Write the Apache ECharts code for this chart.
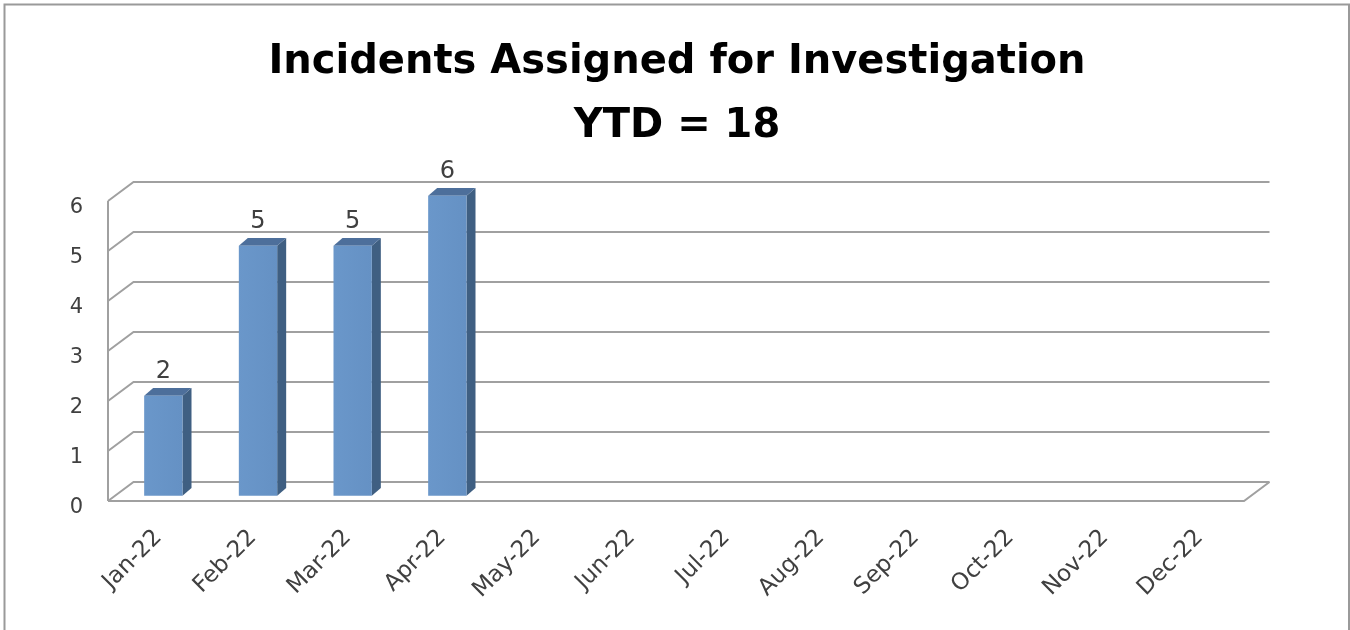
<!DOCTYPE html>
<html>
<head>
<meta charset="utf-8">
<script src="https://cdn.jsdelivr.net/npm/echarts@6/dist/echarts.min.js"></script>
<style>
html,body{margin:0;padding:0;background:#fff;}
#chart{width:1350px;height:630px;}
</style>
</head>
<body>
<div id="chart"></div>
<script>
// ---- data ----
const months = ['Jan-22','Feb-22','Mar-22','Apr-22','May-22','Jun-22','Jul-22','Aug-22','Sep-22','Oct-22','Nov-22','Dec-22'];
const incidents = [2, 5, 5, 6, null, null, null, null, null, null, null, null];
const yTicks = [0, 1, 2, 3, 4, 5, 6];
const titleLines = ['Incidents Assigned for Investigation', 'YTD = 18'];

// ---- style constants ----
const FONT = "'DejaVu Sans', 'Noto Sans', sans-serif";
const GRID_COLOR = '#A0A0A0';
const TEXT_COLOR = '#404040';
const DX = 25.5, DY = -19;          // depth of the back wall
const FDX = 8, FDY = -5.3;          // bar front-face depth offset
const BDX = 9, BDY = -7.7;          // bar thickness (depth)

const chart = echarts.init(document.getElementById('chart'));

const frameData = yTicks.map(v => [0, v]);
const barData = incidents.map((v, i) => [i, v]).filter(d => d[1] != null);
const yMin = yTicks[0], yMax = yTicks[yTicks.length - 1];

function renderFrame(params, api) {
  const v = api.value(1);
  const cs = params.coordSys;
  const x0 = cs.x, x1 = cs.x + cs.width;
  const y = api.coord([0, v])[1];
  const y0 = api.coord([0, yMin])[1];
  const ls = { stroke: GRID_COLOR, lineWidth: 2, fill: null };
  const children = [{
    type: 'polyline',
    shape: { points: [[x0, y], [x0 + DX, y + DY], [x1 + DX, y + DY]] },
    style: ls
  }];
  if (v === yMin) {
    children.push({ type: 'polyline', shape: { points: [[x0, y0], [x1, y0], [x1 + DX, y0 + DY]] }, style: ls });
  }
  if (v === yMax) {
    children.push({ type: 'line', shape: { x1: x0, y1: y, x2: x0, y2: y0 }, style: ls });
  }
  return { type: 'group', children };
}

function renderBar(params, api) {
  const i = api.value(0), v = api.value(1);
  const pBase = api.coord([i, 0]);
  const pTop = api.coord([i, v]);
  const band = api.size([1, 0])[0];
  const bw = band * 0.405;
  const xl = pBase[0] - bw / 2 + FDX;
  const xr = xl + bw;
  const yb = pBase[1] + FDY;
  const yt = pTop[1] + FDY;
  return {
    type: 'group',
    children: [
      { type: 'polygon', shape: { points: [[xr, yt], [xr + BDX, yt + BDY], [xr + BDX, yb + BDY], [xr, yb]] },
        style: { fill: '#3F5F82' } },
      { type: 'polygon', shape: { points: [[xl, yt], [xr, yt], [xr + BDX, yt + BDY], [xl + BDX, yt + BDY]] },
        style: { fill: '#4D6F9B' } },
      { type: 'rect', shape: { x: xl, y: yt, width: bw, height: yb - yt },
        style: { fill: new echarts.graphic.LinearGradient(0, 0, 1, 0, [
          { offset: 0, color: '#6A97CA' }, { offset: 1, color: '#6591C4' }]) } },
      { type: 'text', style: { text: String(v), x: xl + bw / 2, y: yt - 24, align: 'center', verticalAlign: 'middle',
        fontSize: 24, fontFamily: FONT, fill: TEXT_COLOR } }
    ]
  };
}

const option = {
  backgroundColor: '#ffffff',
  animation: false,
  title: {
    text: titleLines.join('\n'),
    left: 672, top: 26, textAlign: 'center',
    textStyle: { fontFamily: FONT, fontWeight: 'bold', fontSize: 40, lineHeight: 64, color: '#000' }
  },
  graphic: [{
    type: 'rect', shape: { x: 4.5, y: 4.5, width: 1344.5, height: 700 },
    style: { stroke: '#9A9A9A', lineWidth: 2, fill: null }, silent: true
  }],
  grid: [
    { left: 108, right: 106, top: 201, bottom: 129 },   // front plane (marks)
    { left: 111, right: 103, top: 208, bottom: 122 }    // label plane
  ],
  xAxis: [
    { type: 'category', gridIndex: 0, data: months, axisLine: { show: false }, axisTick: { show: false },
      axisLabel: { show: false }, splitLine: { show: false } },
    { type: 'category', gridIndex: 1, data: months, axisLine: { show: false }, axisTick: { show: false },
      axisLabel: { rotate: 45, margin: 26, interval: 0, fontSize: 23, fontFamily: FONT, color: TEXT_COLOR },
      splitLine: { show: false } }
  ],
  yAxis: [
    { type: 'value', gridIndex: 0, min: yMin, max: yMax, interval: 1, axisLine: { show: false }, axisTick: { show: false },
      splitLine: { show: false }, axisLabel: { show: false } },
    { type: 'value', gridIndex: 1, min: yMin, max: yMax, interval: 1, axisLine: { show: false }, axisTick: { show: false },
      splitLine: { show: false },
      axisLabel: { margin: 28, fontSize: 21, fontFamily: FONT, color: TEXT_COLOR } }
  ],
  series: [
    { type: 'custom', xAxisIndex: 0, yAxisIndex: 0, data: frameData, renderItem: renderFrame, clip: false, z: 1, silent: true },
    { type: 'custom', xAxisIndex: 0, yAxisIndex: 0, data: barData, renderItem: renderBar, clip: false, z: 2, silent: true }
  ]
};
chart.setOption(option);
</script>
</body>
</html>
